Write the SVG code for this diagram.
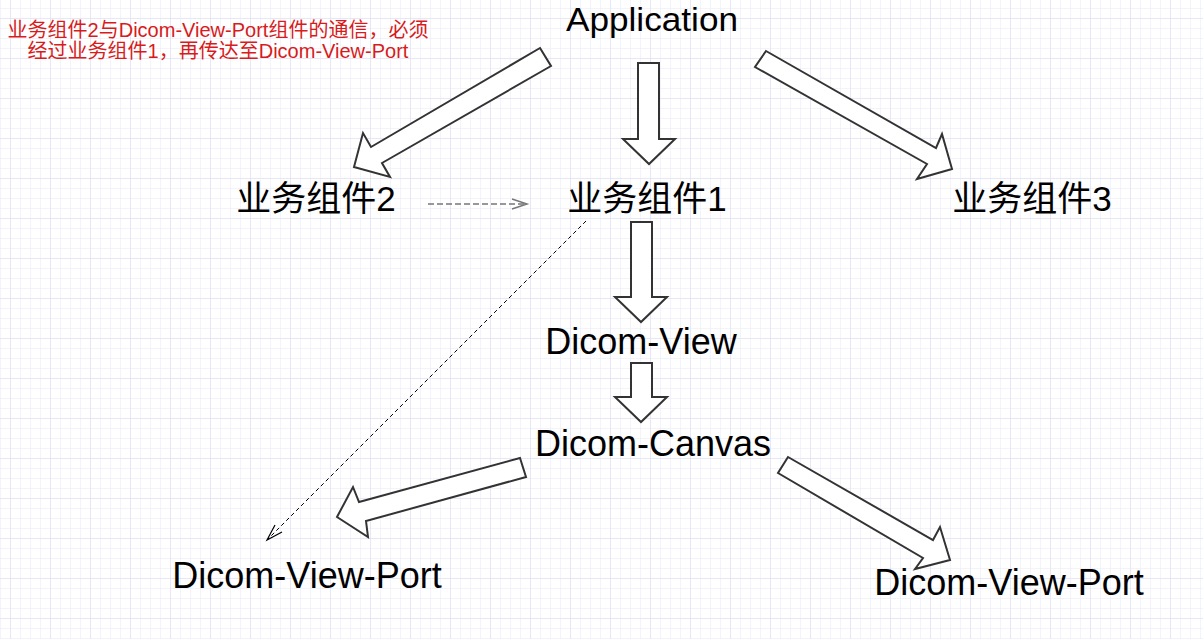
<svg xmlns="http://www.w3.org/2000/svg" width="1203" height="639" viewBox="0 0 1203 639">
<style>
.lbl{font-family:"Liberation Sans","Noto Sans CJK SC",sans-serif;fill:#000;text-anchor:middle}
.lat{font-size:36px}
.cjk{font-size:35px}
.note{font-family:"Liberation Sans","Noto Sans CJK SC",sans-serif;font-size:20px;fill:#d81b1b;text-anchor:middle}
.blk{fill:#fff;stroke:#333;stroke-width:2;stroke-linejoin:miter}
.dash1{fill:none;stroke:#777;stroke-width:1.5;stroke-dasharray:6 3}
.dash2{fill:none;stroke:#000;stroke-width:1;stroke-dasharray:4 3}
.head1{fill:none;stroke:#777;stroke-width:1.5}
.head2{fill:none;stroke:#000;stroke-width:1.2}
</style>
<defs>
<pattern id="minor" patternUnits="userSpaceOnUse" x="0" y="8" width="10" height="10">
<path d="M10 0H0V10" fill="none" stroke="#e8e8f8" stroke-width="1"/>
</pattern>
<pattern id="major" patternUnits="userSpaceOnUse" x="10" y="18" width="40" height="40">
<path d="M40 0H0V40" fill="none" stroke="#dcdcf2" stroke-width="1"/>
</pattern>
</defs>
<rect width="1203" height="639" fill="#fff"/>
<rect width="1203" height="639" fill="url(#minor)"/>
<rect width="1203" height="639" fill="url(#major)"/>

<g id="connectors">
<polygon class="blk" points="638,63 659,63 659,139 675,139 649,164 623,139 638,139"/>
<polygon class="blk" points="631,222 652,222 652,297 667,297 641,322 615,297 631,297"/>
<polygon class="blk" points="631,363 652,363 652,397 667,397 641,422 615,397 631,397"/>
<polygon class="blk" points="540,48 551,66 382,163 390,177 354,167 363,133 371,147"/>
<polygon class="blk" points="766,51 936,148 942,134 952,169 917,179 927,164 755,67"/>
<polygon class="blk" points="520,458 526,477 366,521 368,537 337,517 353,487 359,502"/>
<polygon class="blk" points="788,457 933,540 940,527 950,560 915,569 923,558 778,473"/>
<line class="dash1" x1="428" y1="204" x2="525" y2="204"/>
<polyline class="head1" points="512,199 527,204 512,209"/>
<line class="dash2" x1="586" y1="221" x2="268" y2="539"/>
<polyline class="head2" points="275,525 267,540 282,532"/>
</g>

<g id="note"><text class="note" x="218" y="37">业务组件2与Dicom-View-Port组件的通信，必须</text>
<text class="note" x="218" y="58">经过业务组件1，再传达至Dicom-View-Port</text></g>
<g id="application"><text class="lbl" style="font-size:34px" x="652" y="31" textLength="172" lengthAdjust="spacingAndGlyphs">Application</text></g>
<g id="biz2"><text class="lbl cjk" x="316" y="211">业务组件2</text></g>
<g id="biz1"><text class="lbl cjk" x="647" y="211">业务组件1</text></g>
<g id="biz3"><text class="lbl cjk" x="1032" y="211">业务组件3</text></g>
<g id="dicom-view"><text class="lbl lat" x="641" y="354">Dicom-View</text></g>
<g id="dicom-canvas"><text class="lbl lat" x="653" y="456">Dicom-Canvas</text></g>
<g id="viewport-left"><text class="lbl lat" x="307" y="588">Dicom-View-Port</text></g>
<g id="viewport-right"><text class="lbl lat" x="1009" y="595">Dicom-View-Port</text></g>
</svg>
